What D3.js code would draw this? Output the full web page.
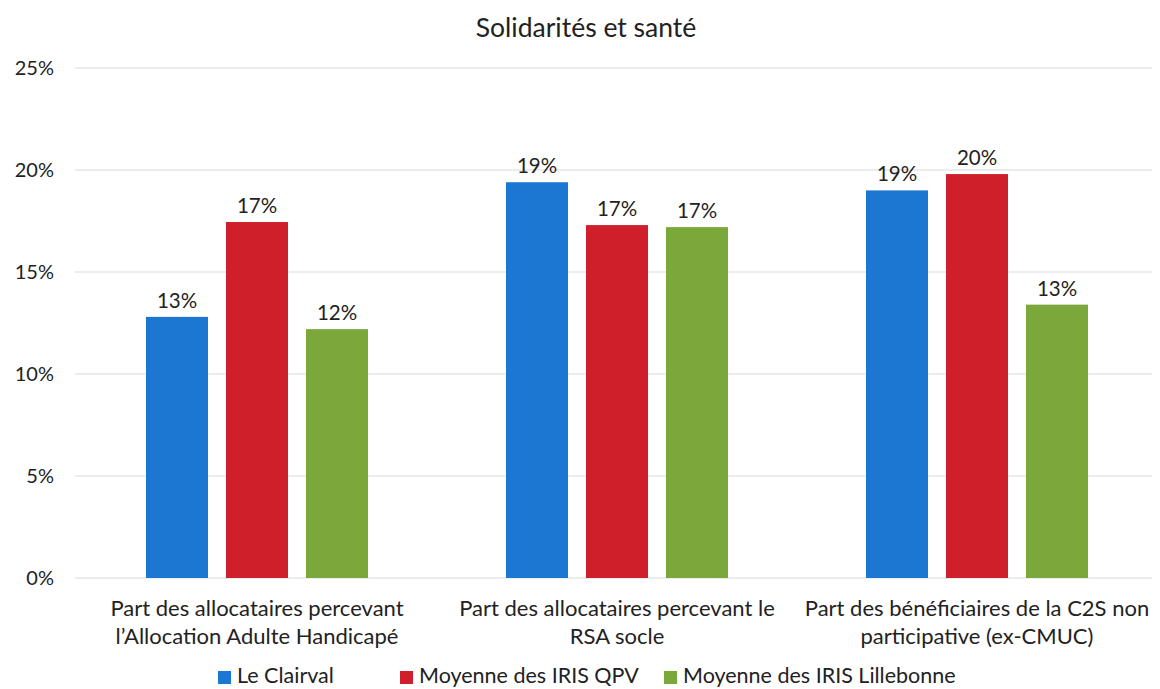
<!DOCTYPE html>
<html><head><meta charset="utf-8">
<script src="https://cdn.jsdelivr.net/npm/d3@7"></script>
<style>body{margin:0;background:#fff;} text{font-family:Lato, "Open Sans", sans-serif;fill:#222;}</style>
</head><body>
<svg id="chart" width="1160" height="689"></svg>
<script>
const title = "Solidarités et santé";
const categories = [
  ["Part des allocataires percevant", "l’Allocation Adulte Handicapé"],
  ["Part des allocataires percevant le", "RSA socle"],
  ["Part des bénéficiaires de la C2S non", "participative (ex-CMUC)"]
];
const seriesNames = ["Le Clairval", "Moyenne des IRIS QPV", "Moyenne des IRIS Lillebonne"];
const seriesColors = ["#1c77d2", "#cf1f2a", "#7ba83a"];
const leClairval = [12.8, 19.4, 19.0];
const moyenneQPV = [17.45, 17.3, 19.8];
const moyenneLillebonne = [12.2, 17.2, 13.4];
const valueLabels = [["13%", "17%", "12%"], ["19%", "17%", "17%"], ["19%", "20%", "13%"]];
const yTicks = [0, 5, 10, 15, 20, 25];

const series = [leClairval, moyenneQPV, moyenneLillebonne];
const svg = d3.select("#chart");

const y = d3.scaleLinear().domain([0, 25]).range([578, 68]);
const x0 = d3.scaleBand().domain(d3.range(categories.length)).range([77, 1157]).padding(0);
const x1 = d3.scaleBand().domain(d3.range(series.length)).range([69, 291]).paddingInner(0.225).paddingOuter(0);

// gridlines
svg.append("g").selectAll("line").data(yTicks).join("line")
  .attr("x1", 75).attr("x2", 1152)
  .attr("y1", d => y(d)).attr("y2", d => y(d))
  .attr("stroke", "#d9d9d9").attr("stroke-width", 1);

// y labels
svg.append("g").selectAll("text").data(yTicks).join("text")
  .attr("x", 54).attr("y", d => y(d)).attr("dy", "0.35em")
  .attr("text-anchor", "end").attr("font-size", 20)
  .text(d => d + "%");

// title
svg.append("text").attr("x", 586).attr("y", 37).attr("text-anchor", "middle")
  .attr("font-size", 26.5).text(title);

// bars
const groups = svg.append("g").selectAll("g").data(categories.map((c, i) => i)).join("g")
  .attr("transform", i => `translate(${x0(i)},0)`);

groups.selectAll("rect").data(i => series.map((s, k) => ({k, v: s[i]}))).join("rect")
  .attr("x", d => x1(d.k)).attr("width", x1.bandwidth())
  .attr("y", d => y(d.v)).attr("height", d => y(0) - y(d.v))
  .attr("fill", d => seriesColors[d.k]);

groups.selectAll("text.val").data(i => series.map((s, k) => ({k, v: s[i], label: valueLabels[i][k]}))).join("text")
  .attr("class", "val")
  .attr("x", d => x1(d.k) + x1.bandwidth() / 2).attr("y", d => y(d.v) - 9)
  .attr("text-anchor", "middle").attr("font-size", 20.5)
  .text(d => d.label);

// category labels
const cat = svg.append("g").selectAll("text").data(categories).join("text")
  .attr("x", (d, i) => x0(i) + x0.bandwidth() / 2)
  .attr("y", 616).attr("text-anchor", "middle").attr("font-size", 22);
cat.selectAll("tspan").data(d => d).join("tspan")
  .attr("x", function() { return this.parentNode.getAttribute("x"); })
  .attr("dy", (d, j) => j === 0 ? 0 : 28)
  .text(d => d);

// legend
const legendX = [218, 400, 664];
const lg = svg.append("g").selectAll("g").data(seriesNames).join("g")
  .attr("transform", (d, i) => `translate(${legendX[i]},683)`);
lg.append("rect").attr("x", 0).attr("y", -12).attr("width", 13).attr("height", 13)
  .attr("fill", (d, i) => seriesColors[i]);
lg.append("text").attr("x", 19).attr("y", 0).attr("font-size", 21.5).text(d => d);
</script>
</body></html>
